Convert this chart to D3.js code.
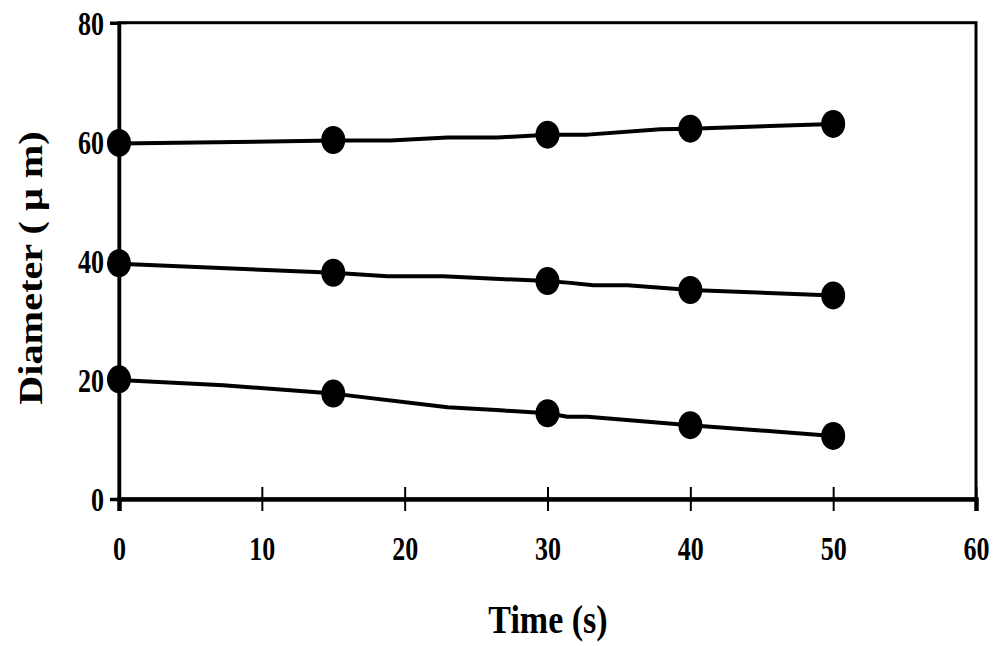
<!DOCTYPE html>
<html>
<head>
<meta charset="utf-8">
<script src="https://cdn.jsdelivr.net/npm/d3@7"></script>
<style>
  html, body { margin: 0; padding: 0; background: #fff; }
  svg { display: block; }
  text { font-family: "Liberation Serif", "Times New Roman", serif; font-weight: bold; fill: #000; }
</style>
</head>
<body>
<svg id="chart" width="1000" height="646"></svg>
<script>
// ---- data ----
const xTicks = [0, 10, 20, 30, 40, 50, 60];
const yTicks = [0, 20, 40, 60, 80];

// measured points (markers)
const markerTimes = [0, 15, 30, 40, 50];
const topMarkers = [59.8, 60.3, 61.2, 62.2, 63.0];
const midMarkers = [39.6, 38.0, 36.6, 35.1, 34.2];
const lowMarkers = [20.1, 17.7, 14.4, 12.4, 10.6];

// connecting traces (with intermediate points as drawn)
const topTraceT = [0, 15, 19, 23, 26.5, 30, 32.8, 37.9, 40, 50];
const topTraceV = [59.7, 60.2, 60.2, 60.7, 60.7, 61.2, 61.2, 62.1, 62.2, 63.0];
const midTraceT = [0, 15, 18.8, 22.7, 30, 31.6, 33.2, 35.6, 40, 50];
const midTraceV = [39.5, 38.0, 37.4, 37.4, 36.6, 36.3, 35.9, 35.9, 35.1, 34.2];
const lowTraceT = [0, 7.3, 15, 23, 26.7, 30, 31.4, 32.8, 40, 50];
const lowTraceV = [20.0, 19.1, 17.7, 15.4, 14.9, 14.4, 13.8, 13.8, 12.4, 10.6];

const xTitle = "Time (s)";
const yTitle = "Diameter ( \u03bc m)";

// ---- drawing ----
const svg = d3.select("#chart");
const pL = 119, pR = 976, pT = 22.7, pB = 499;
const stretch = 1.28;

const x = d3.scaleLinear().domain([0, 60]).range([pL, pR]);
const y = d3.scaleLinear().domain([0, 80]).range([pB, pT]);

// frame (top & right)
svg.append("rect")
  .attr("x", pL).attr("y", pT)
  .attr("width", pR - pL).attr("height", pB - pT)
  .attr("fill", "none").attr("stroke", "#000").attr("stroke-width", 3);

// x axis
const gx = svg.append("g").attr("transform", `translate(0,${pB})`)
  .call(d3.axisBottom(x).tickValues(xTicks).tickSize(12).tickFormat(d3.format("d")));
gx.select(".domain").attr("stroke-width", 4.5);
gx.selectAll(".tick line").attr("y1", -12).attr("y2", 12).attr("stroke-width", 2);
gx.selectAll(".tick text")
  .attr("y", 0).attr("dy", "0.36em")
  .attr("transform", `translate(0,49) scale(1,${stretch})`)
  .style("font-size", "26px");

// y axis
const gy = svg.append("g").attr("transform", `translate(${pL},0)`)
  .call(d3.axisLeft(y).tickValues(yTicks).tickSize(9).tickFormat(d3.format("d")));
gy.select(".domain").attr("stroke-width", 3.5);
gy.selectAll(".tick line").attr("x1", -9).attr("x2", 8).attr("stroke-width", 2);
gy.selectAll(".tick text")
  .attr("x", -15).attr("dy", "0.36em")
  .attr("transform", `scale(1,${stretch})`)
  .style("font-size", "26px");

// lines
const line = d3.line().x(d => x(d[0])).y(d => y(d[1]));
const traces = [
  d3.zip(topTraceT, topTraceV),
  d3.zip(midTraceT, midTraceV),
  d3.zip(lowTraceT, lowTraceV)
];
svg.append("g").selectAll("path").data(traces).join("path")
  .attr("d", line)
  .attr("fill", "none").attr("stroke", "#000")
  .attr("stroke-width", 4).attr("stroke-linejoin", "round");

// markers
const markerSets = [topMarkers, midMarkers, lowMarkers];
markerSets.forEach(vals => {
  svg.append("g").selectAll("ellipse").data(d3.zip(markerTimes, vals)).join("ellipse")
    .attr("cx", d => x(d[0])).attr("cy", d => y(d[1]))
    .attr("rx", 12).attr("ry", 14).attr("fill", "#000");
});

// titles
svg.append("text")
  .attr("transform", `translate(548,618) scale(1,1.2)`)
  .attr("dy", "0.36em")
  .attr("text-anchor", "middle").style("font-size", "34px")
  .text(xTitle);

svg.append("text")
  .attr("transform", `translate(30,268) scale(1,1.22) rotate(-90)`)
  .attr("dy", "0.36em")
  .attr("text-anchor", "middle").style("font-size", "33px")
  .text(yTitle);
</script>
</body>
</html>
